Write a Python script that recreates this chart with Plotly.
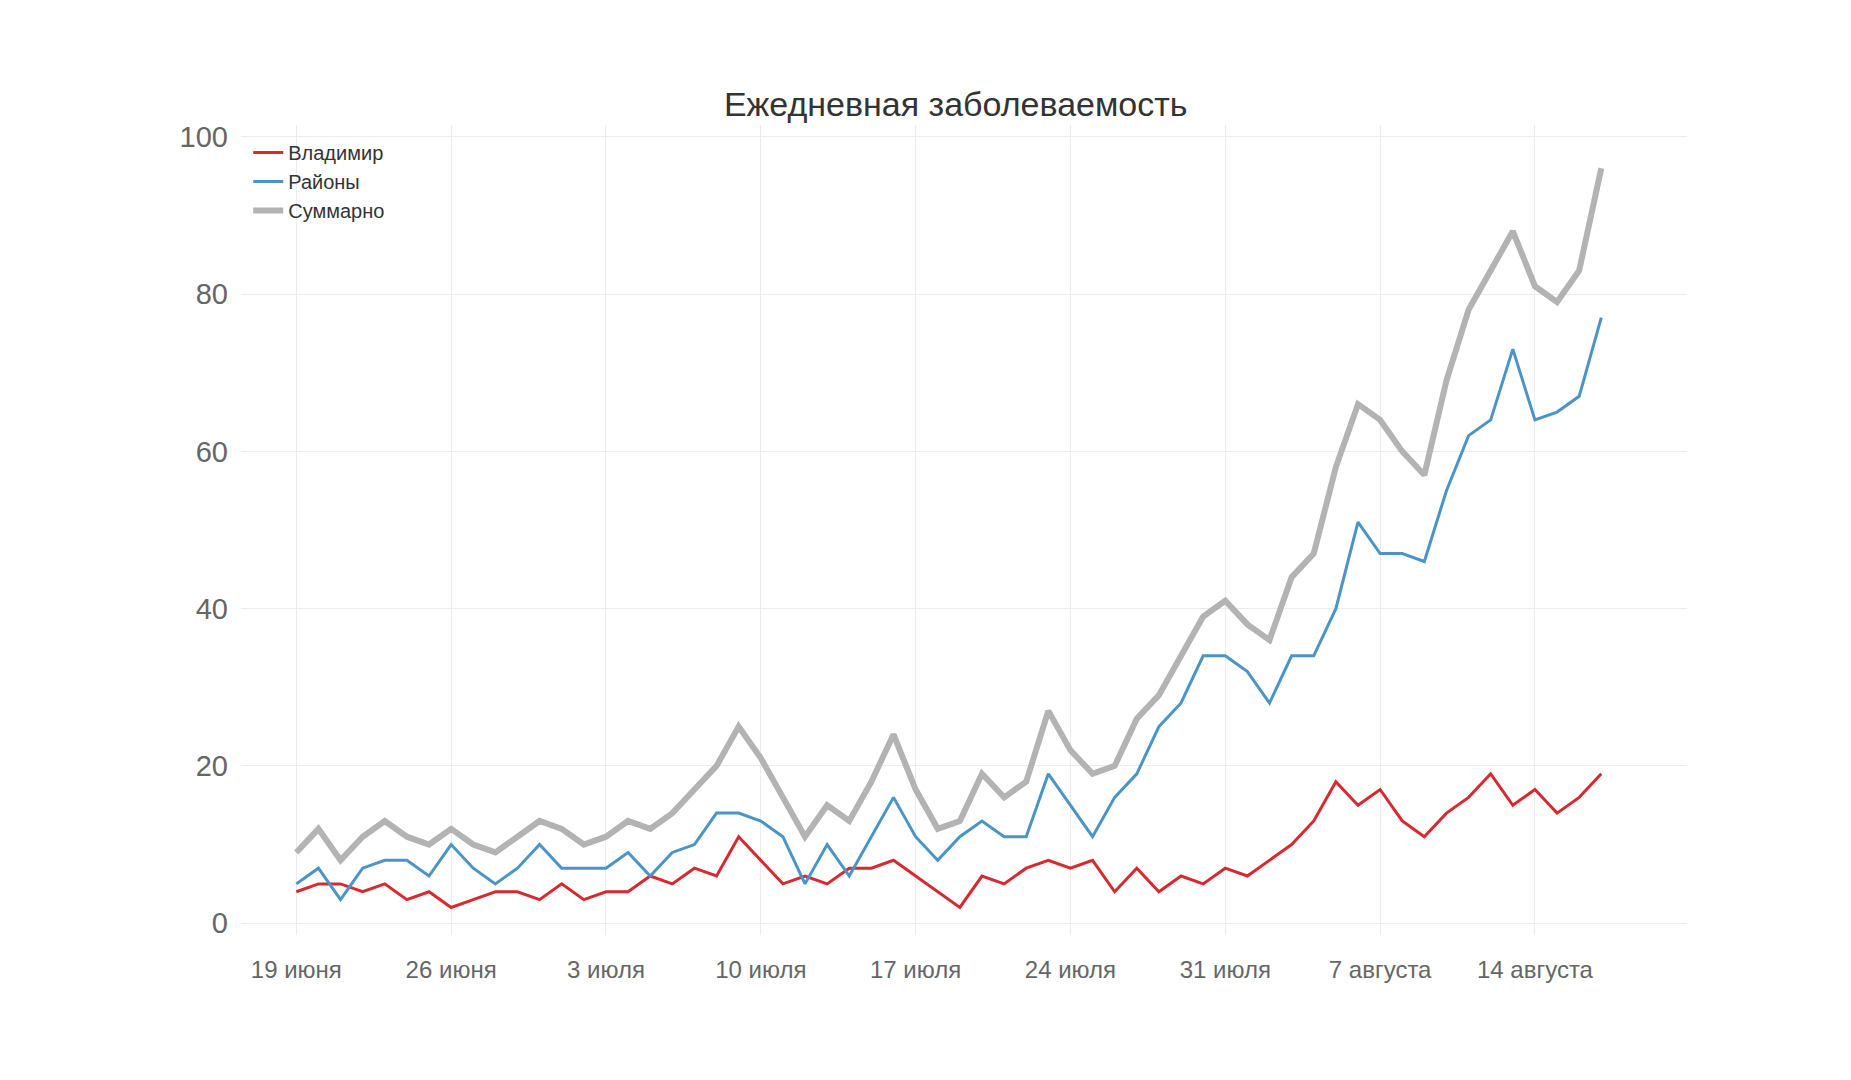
import pandas as pd
import plotly.graph_objects as go

dates = pd.date_range("2020-06-19", periods=60, freq="D")

vladimir = [4, 5, 5, 4, 5, 3, 4, 2, 3, 4,
            4, 3, 5, 3, 4, 4, 6, 5, 7, 6,
            11, 8, 5, 6, 5, 7, 7, 8, 6, 4,
            2, 6, 5, 7, 8, 7, 8, 4, 7, 4,
            6, 5, 7, 6, 8, 10, 13, 18, 15, 17,
            13, 11, 14, 16, 19, 15, 17, 14, 16, 19]
rayony = [5, 7, 3, 7, 8, 8, 6, 10, 7, 5,
          7, 10, 7, 7, 7, 9, 6, 9, 10, 14,
          14, 13, 11, 5, 10, 6, 11, 16, 11, 8,
          11, 13, 11, 11, 19, 15, 11, 16, 19, 25,
          28, 34, 34, 32, 28, 34, 34, 40, 51, 47,
          47, 46, 55, 62, 64, 73, 64, 65, 67, 77]
total = [a + b for a, b in zip(vladimir, rayony)]

tick_dates = pd.date_range("2020-06-19", periods=9, freq="7D")
tick_text = ["19 июня", "26 июня", "3 июля", "10 июля", "17 июля",
             "24 июля", "31 июля", "7 августа", "14 августа"]

fig = go.Figure()
fig.add_trace(go.Scatter(x=dates, y=vladimir, mode="lines", name="Владимир",
                         line=dict(color="#d62a2f", width=3)))
fig.add_trace(go.Scatter(x=dates, y=rayony, mode="lines", name="Районы",
                         line=dict(color="#4a94c8", width=3)))
fig.add_trace(go.Scatter(x=dates, y=total, mode="lines", name="Суммарно",
                         line=dict(color="#b3b3b3", width=6)))

fig.update_layout(
    width=1851, height=1080,
    paper_bgcolor="white", plot_bgcolor="white",
    font=dict(family="Liberation Sans, Arial, sans-serif", color="#666666"),
    title=dict(text="Ежедневная заболеваемость", x=0.512, y=0.922,
               xanchor="center", font=dict(size=34, color="#333333")),
    margin=dict(l=233, r=172, t=117, b=153),
    showlegend=True,
    legend=dict(x=0.005, y=0.99, xanchor="left", yanchor="top",
                bgcolor="rgba(0,0,0,0)", font=dict(size=20, color="#333333"),
                tracegroupgap=0),
)
fig.update_xaxes(range=["2020-06-16 12:00", "2020-08-20 21:00"],
                 tickvals=tick_dates, ticktext=tick_text,
                 tickfont=dict(size=24, color="#666666"),
                 ticklabelstandoff=18,
                 showgrid=True, gridcolor="#ececec", zeroline=False,
                 showline=False, ticks="", ticklen=0)
fig.update_yaxes(range=[-1.5, 101.5], tickvals=[0, 20, 40, 60, 80, 100],
                 tickfont=dict(size=29, color="#666666"),
                 ticklabelstandoff=12,
                 showgrid=True, gridcolor="#ececec", zeroline=False,
                 showline=False, ticks="", ticklen=0)

fig.write_html("out.html")
